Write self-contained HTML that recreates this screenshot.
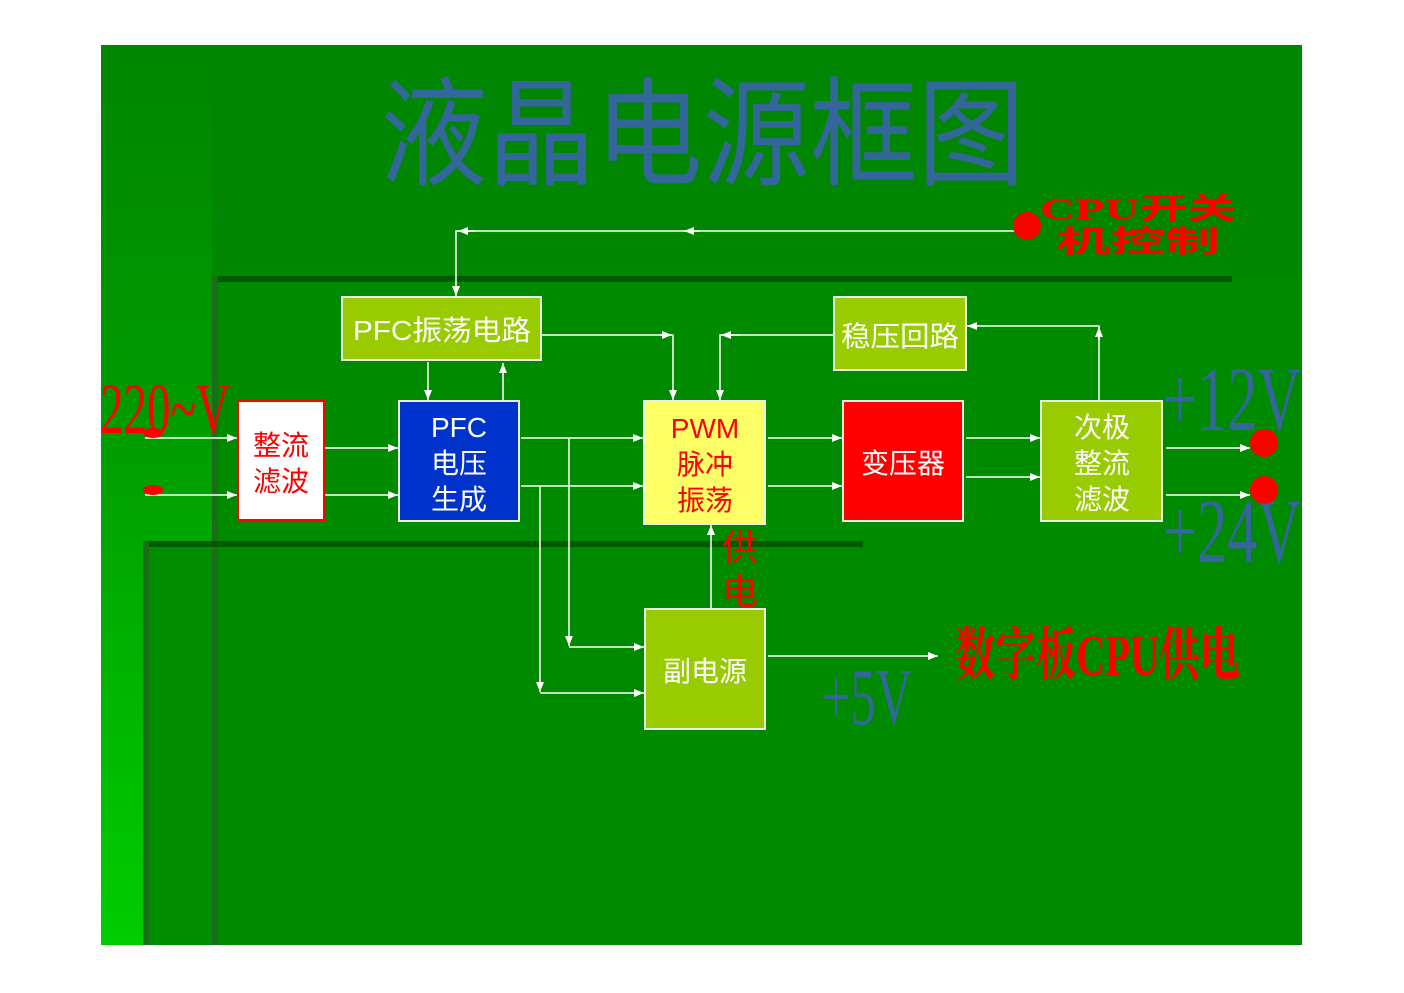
<!DOCTYPE html>
<html><head><meta charset="utf-8"><style>
html,body{margin:0;padding:0;background:#fff;}
svg{display:block;}
</style></head><body>
<svg width="1404" height="993" viewBox="0 0 1404 993" xmlns="http://www.w3.org/2000/svg" font-family="Liberation Sans, Noto Sans CJK SC, sans-serif">
<defs>
<linearGradient id="lg" x1="0" y1="0" x2="0" y2="1">
<stop offset="0" stop-color="#008600"/><stop offset="0.4" stop-color="#009a00"/><stop offset="1" stop-color="#00cc00"/>
</linearGradient>
<marker id="a" viewBox="0 0 10 10" refX="10" refY="5" markerWidth="10" markerHeight="10" markerUnits="userSpaceOnUse" orient="auto"><path d="M0,1 L10,5 L0,9z" fill="#fff"/></marker>
</defs>
<rect x="101" y="45" width="1201" height="900" fill="#008600"/>
<rect x="101" y="45" width="111" height="900" fill="url(#lg)"/>
<rect x="212" y="276" width="1090" height="669" fill="#008a00"/>
<rect x="212" y="276" width="1020" height="6" fill="#005a00"/>
<rect x="212" y="276" width="6" height="669" fill="#1a6e1a"/>
<rect x="149" y="547" width="63" height="398" fill="#008e00"/>
<rect x="143" y="541" width="720" height="6" fill="#005a00"/>
<rect x="143" y="541" width="6" height="404" fill="#1a6e1a"/>

<text x="380" y="176" font-size="118" fill="#336699" textLength="645" lengthAdjust="spacingAndGlyphs">液晶电源框图</text>

<g stroke="#fff" stroke-width="1.5" fill="none">
<path d="M1015,231 H456 V296" marker-end="url(#a)"/>
<path d="M700,231 H684" marker-end="url(#a)"/>
<path d="M475,231 H458" marker-end="url(#a)"/>
<path d="M428,362 V400" marker-end="url(#a)"/>
<path d="M503,401 V363" marker-end="url(#a)"/>
<path d="M541,335 H673 V400" marker-end="url(#a)"/>
<path d="M660,335 H672" marker-end="url(#a)"/>
<path d="M834,335 H720 V400" marker-end="url(#a)"/>
<path d="M740,335 H721" marker-end="url(#a)"/>
<path d="M1099,401 V326 H967" marker-end="url(#a)"/>
<path d="M1099,340 V327" marker-end="url(#a)"/>
<path d="M145,438 H237" marker-end="url(#a)"/>
<path d="M145,495 H237" marker-end="url(#a)"/>
<path d="M324,448 H398" marker-end="url(#a)"/>
<path d="M324,495 H398" marker-end="url(#a)"/>
<path d="M521,438 H643" marker-end="url(#a)"/>
<path d="M521,486 H643" marker-end="url(#a)"/>
<path d="M569,438 V646" marker-end="url(#a)"/>
<path d="M569,647 H644" marker-end="url(#a)"/>
<path d="M540,486 V692" marker-end="url(#a)"/>
<path d="M540,693 H644" marker-end="url(#a)"/>
<path d="M768,438 H842" marker-end="url(#a)"/>
<path d="M768,486 H842" marker-end="url(#a)"/>
<path d="M966,438 H1040" marker-end="url(#a)"/>
<path d="M966,477 H1040" marker-end="url(#a)"/>
<path d="M1166,448 H1250" marker-end="url(#a)"/>
<path d="M1166,495 H1250" marker-end="url(#a)"/>
<path d="M711,609 V525" marker-end="url(#a)"/>
<path d="M768,656 H938" marker-end="url(#a)"/>
</g>

<g stroke="#e8f0e0" stroke-width="2">
<rect x="342" y="297" width="199" height="63" fill="#99cc00"/>
<rect x="834" y="297" width="132" height="73" fill="#99cc00"/>
<rect x="399" y="401" width="120" height="120" fill="#0033cc"/>
<rect x="644" y="401" width="121" height="123" fill="#ffff66"/>
<rect x="843" y="401" width="120" height="120" fill="#ff0000"/>
<rect x="1041" y="401" width="121" height="120" fill="#99cc00"/>
<rect x="645" y="609" width="120" height="120" fill="#99cc00"/>
</g>
<rect x="238" y="401" width="86" height="119" fill="#fff" stroke="#ff0000" stroke-width="2"/>

<g font-size="28" fill="#fff">
<text x="353" y="340" textLength="178" lengthAdjust="spacingAndGlyphs">PFC振荡电路</text>
<text x="841" y="346" textLength="118" lengthAdjust="spacingAndGlyphs">稳压回路</text>
<text x="459" y="437" text-anchor="middle">PFC</text>
<text x="459" y="473" text-anchor="middle">电压</text>
<text x="459" y="509" text-anchor="middle">生成</text>
<text x="903" y="473" text-anchor="middle">变压器</text>
<text x="1102" y="437" text-anchor="middle">次极</text>
<text x="1102" y="473" text-anchor="middle">整流</text>
<text x="1102" y="509" text-anchor="middle">滤波</text>
<text x="705" y="681" text-anchor="middle">副电源</text>
</g>
<g font-size="28" fill="#ff0000">
<text x="281" y="455" text-anchor="middle">整流</text>
<text x="281" y="491" text-anchor="middle">滤波</text>
<text x="705" y="438" text-anchor="middle">PWM</text>
<text x="705" y="474" text-anchor="middle">脉冲</text>
<text x="705" y="510" text-anchor="middle">振荡</text>
<text x="740" y="560" text-anchor="middle" font-size="36">供</text>
<text x="740" y="604" text-anchor="middle" font-size="36">电</text>
</g>

<g font-family="Liberation Serif, serif">
<text x="100" y="433" font-size="72" fill="#ff0000" textLength="130" lengthAdjust="spacingAndGlyphs">220~V</text>
<text x="1163" y="430" font-size="92" fill="#336699" textLength="138" lengthAdjust="spacingAndGlyphs">+12V</text>
<text x="1163" y="562" font-size="92" fill="#336699" textLength="138" lengthAdjust="spacingAndGlyphs">+24V</text>
<text x="822" y="724" font-size="80" fill="#336699" textLength="90" lengthAdjust="spacingAndGlyphs">+5V</text>
</g>
<text x="955" y="675" font-size="58" font-weight="bold" fill="#ff0000" textLength="285" lengthAdjust="spacingAndGlyphs" font-family="Liberation Serif, Noto Serif CJK SC, serif">数字板CPU供电</text>
<text x="1040" y="219" font-size="30" font-weight="bold" fill="#ff0000" textLength="196" lengthAdjust="spacingAndGlyphs" font-family="Liberation Serif, Noto Sans CJK SC, serif">CPU开关</text>
<text x="1056" y="252" font-size="30" font-weight="bold" fill="#ff0000" textLength="164" lengthAdjust="spacingAndGlyphs">机控制</text>

<circle cx="1027" cy="226" r="14" fill="#ff0000"/>
<circle cx="1264" cy="443" r="14" fill="#ff0000"/>
<circle cx="1264" cy="490" r="14" fill="#ff0000"/>
<ellipse cx="153" cy="490" rx="10" ry="5" fill="#ff0000"/>
<ellipse cx="153" cy="433" rx="10" ry="5" fill="#ff0000"/>
</svg>
</body></html>
